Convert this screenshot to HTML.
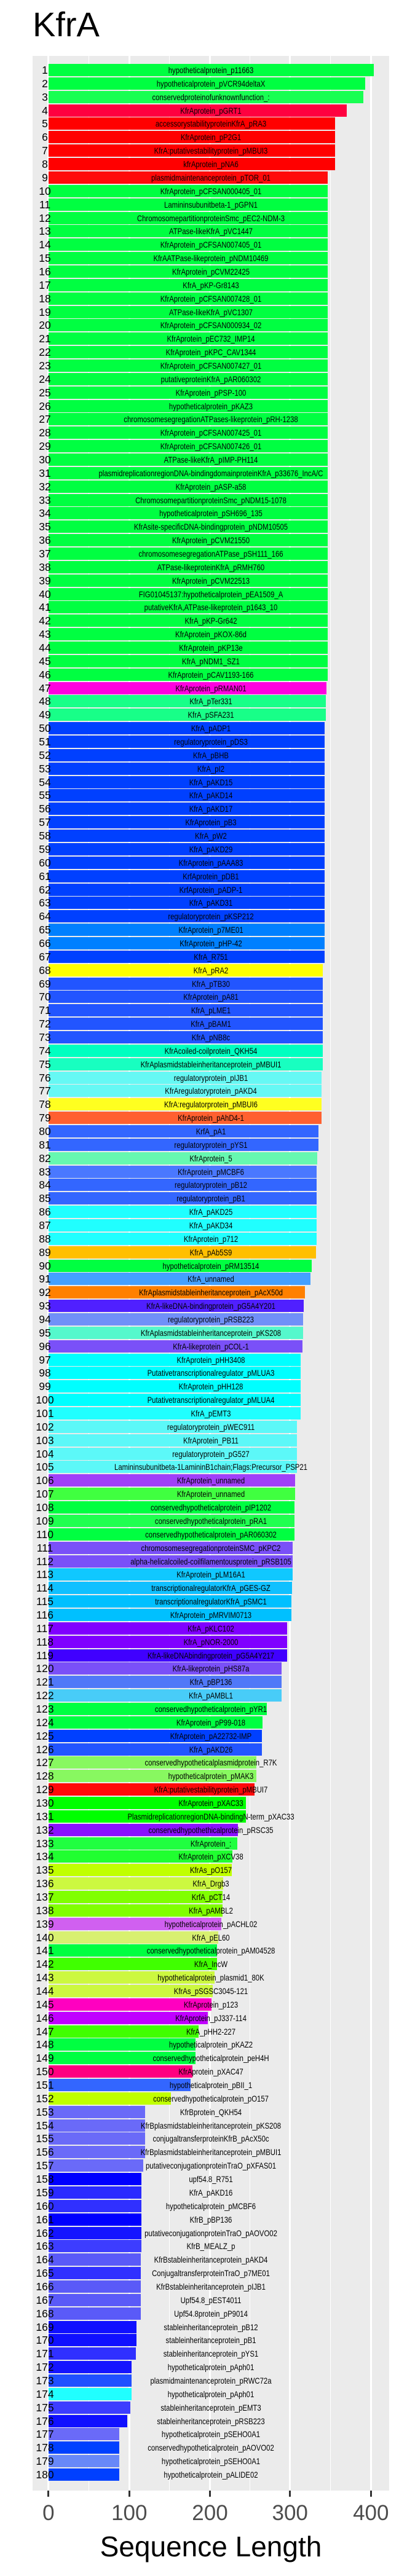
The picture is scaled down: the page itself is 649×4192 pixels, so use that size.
<!DOCTYPE html>
<html><head><meta charset="utf-8">
<style>
html,body{margin:0;padding:0;background:#fff;}
body{width:649px;height:4192px;position:relative;overflow:hidden;font-family:"Liberation Sans",Arial,sans-serif;}
#panel{position:absolute;left:53px;top:91px;width:580px;height:3962px;background:#ebebeb;}
.g{position:absolute;top:91px;height:3962px;background:#fff;}
.bar{position:absolute;left:79px;height:20px;}
.lab{position:absolute;left:343px;height:20px;line-height:20px;font-size:14px;white-space:nowrap;color:#000;transform:translateX(-50%) scaleX(0.81);}
.num{position:absolute;left:48px;width:50px;text-align:center;height:20px;line-height:21px;font-size:17.5px;color:#000;}
.tick{position:absolute;top:4053px;width:3px;height:10px;background:#333;}
.tl{position:absolute;top:4070px;width:80px;text-align:center;font-size:35px;line-height:40px;color:#4d4d4d;}
</style></head><body>
<div style="position:absolute;left:53px;top:8px;font-size:56px;line-height:64px;color:#000;">KfrA</div>
<div id="panel"></div>
<div id="c"></div>
<div style="position:absolute;left:0;width:686px;top:4118px;text-align:center;font-size:46px;line-height:52px;color:#000;">Sequence Length</div>
<script>
var L=["hypotheticalprotein_p11663","hypotheticalprotein_pVCR94deltaX","conservedproteinofunknownfunction_:","KfrAprotein_pGRT1","accessorystabilityproteinKfrA_pRA3","KfrAprotein_pP2G1","KfrA:putativestabilityprotein_pMBUI3","kfrAprotein_pNA6","plasmidmaintenanceprotein_pTOR_01","KfrAprotein_pCFSAN000405_01",
"Lamininsubunitbeta-1_pGPN1","ChromosomepartitionproteinSmc_pEC2-NDM-3","ATPase-likeKfrA_pVC1447","KfrAprotein_pCFSAN007405_01","KfrAATPase-likeprotein_pNDM10469","KfrAprotein_pCVM22425","KfrA_pKP-Gr8143","KfrAprotein_pCFSAN007428_01","ATPase-likeKfrA_pVC1307","KfrAprotein_pCFSAN000934_02",
"KfrAprotein_pEC732_IMP14","KfrAprotein_pKPC_CAV1344","KfrAprotein_pCFSAN007427_01","putativeproteinKfrA_pAR060302","KfrAprotein_pPSP-100","hypotheticalprotein_pKAZ3","chromosomesegregationATPases-likeprotein_pRH-1238","KfrAprotein_pCFSAN007425_01","KfrAprotein_pCFSAN007426_01","ATPase-likeKfrA_pIMP-PH114",
"plasmidreplicationregionDNA-bindingdomainproteinKfrA_p33676_IncA/C","KfrAprotein_pASP-a58","ChromosomepartitionproteinSmc_pNDM15-1078","hypotheticalprotein_pSH696_135","KfrAsite-specificDNA-bindingprotein_pNDM10505","KfrAprotein_pCVM21550","chromosomesegregationATPase_pSH111_166","ATPase-likeproteinKfrA_pRMH760","KfrAprotein_pCVM22513","FIG01045137:hypotheticalprotein_pEA1509_A",
"putativeKfrA,ATPase-likeprotein_p1643_10","KfrA_pKP-Gr642","KfrAprotein_pKOX-86d","KfrAprotein_pKP13e","KfrA_pNDM1_SZ1","KfrAprotein_pCAV1193-166","KfrAprotein_pRMAN01","KfrA_pTer331","KfrA_pSFA231","KfrA_pADP1",
"regulatoryprotein_pDS3","KfrA_pBHB","KfrA_pI2","KfrA_pAKD15","KfrA_pAKD14","KfrA_pAKD17","KfrAprotein_pB3","KfrA_pW2","KfrA_pAKD29","KfrAprotein_pAAA83",
"KrfAprotein_pDB1","KrfAprotein_pADP-1","KfrA_pAKD31","regulatoryprotein_pKSP212","KfrAprotein_p7ME01","KfrAprotein_pHP-42","KfrA_R751","KfrA_pRA2","KfrA_pTB30","KfrAprotein_pA81",
"KfrA_pLME1","KfrA_pBAM1","KfrA_pNB8c","KfrAcoiled-coilprotein_QKH54","KfrAplasmidstableinheritanceprotein_pMBUI1","regulatoryprotein_pIJB1","KfrAregulatoryprotein_pAKD4","KfrA:regulatorprotein_pMBUI6","KfrAprotein_pAhD4-1","KrfA_pA1",
"regulatoryprotein_pYS1","KfrAprotein_5","KfrAprotein_pMCBF6","regulatoryprotein_pB12","regulatoryprotein_pB1","KfrA_pAKD25","KfrA_pAKD34","KfrAprotein_p712","KfrA_pAb5S9","hypotheticalprotein_pRM13514",
"KfrA_unnamed","KfrAplasmidstableinheritanceprotein_pAcX50d","KfrA-likeDNA-bindingprotein_pG5A4Y201","regulatoryprotein_pRSB223","KfrAplasmidstableinheritanceprotein_pKS208","KfrA-likeprotein_pCOL-1","KfrAprotein_pHH3408","Putativetranscriptionalregulator_pMLUA3","KfrAprotein_pHH128","Putativetranscriptionalregulator_pMLUA4",
"KfrA_pEMT3","regulatoryprotein_pWEC911","KfrAprotein_PB11","regulatoryprotein_pG527","Lamininsubunitbeta-1LamininB1chain;Flags:Precursor_PSP21","KfrAprotein_unnamed","KfrAprotein_unnamed","conservedhypotheticalprotein_pIP1202","conservedhypotheticalprotein_pRA1","conservedhypotheticalprotein_pAR060302",
"chromosomesegregationproteinSMC_pKPC2","alpha-helicalcoiled-coilfilamentousprotein_pRSB105","KfrAprotein_pLM16A1","transcriptionalregulatorKfrA_pGES-GZ","transcriptionalregulatorKfrA_pSMC1","KfrAprotein_pMRVIM0713","KfrA_pKLC102","KfrA_pNOR-2000","KfrA-likeDNAbindingprotein_pG5A4Y217","KfrA-likeprotein_pHS87a",
"KfrA_pBP136","KfrA_pAMBL1","conservedhypotheticalprotein_pYR1","KfrAprotein_pP99-018","KfrAprotein_pA22732-IMP","KfrA_pAKD26","conservedhypotheticalplasmidprotein_R7K","hypotheticalprotein_pMAK3","KfrA:putativestabilityprotein_pMBUI7","KfrAprotein_pXAC33",
"PlasmidreplicationregionDNA-bindingN-term_pXAC33","conservedhypothethicalprotein_pRSC35","KfrAprotein_:","KfrAprotein_pXCV38","KfrAs_pO157","KfrA_Drgb3","KrfA_pCT14","KfrA_pAMBL2","hypotheticalprotein_pACHL02","KfrA_pEL60",
"conservedhypotheticalprotein_pAM04528","KfrA_IncW","hypotheticalprotein_plasmid1_80K","KfrAs_pSGSC3045-121","KfrAprotein_p123","KfrAprotein_pJ337-114","KfrA_pHH2-227","hypotheticalprotein_pKAZ2","conservedhypotheticalprotein_peH4H","KfrAprotein_pXAC47",
"hypotheticalprotein_pBII_1","conservedhypotheticalprotein_pO157","KfrBprotein_QKH54","KfrBplasmidstableinheritanceprotein_pKS208","conjugaltransferproteinKfrB_pAcX50c","KfrBplasmidstableinheritanceprotein_pMBUI1","putativeconjugationproteinTraO_pXFAS01","upf54.8_R751","KfrA_pAKD16","hypotheticalprotein_pMCBF6",
"KfrB_pBP136","putativeconjugationproteinTraO_pAOVO02","KfrB_MEALZ_p","KfrBstableinheritanceprotein_pAKD4","ConjugaltransferproteinTraO_p7ME01","KfrBstableinheritanceprotein_pIJB1","Upf54.8_pEST4011","Upf54.8protein_pP9014","stableinheritanceprotein_pB12","stableinheritanceprotein_pB1",
"stableinheritanceprotein_pYS1","hypotheticalprotein_pAph01","plasmidmaintenanceprotein_pRWC72a","hypotheticalprotein_pAph01","stableinheritanceprotein_pEMT3","stableinheritanceprotein_pRSB223","hypotheticalprotein_pSEHO0A1","conservedhypotheticalprotein_pAOVO02","hypotheticalprotein_pSEHO0A1","hypotheticalprotein_pALIDE02"];
function rep(a,n){var r=[];for(var i=0;i<n;i++)r.push(a);return r;}
var Z=[].concat([1450,1418,1411,1346],rep(1300,4),[1273],rep(1271,37),[1268],rep(1264,2),rep(1261,17),[1259,1254],rep(1252,7),rep(1247,4),rep(1237,2),[1232],rep(1230,6),[1227,1210,1206,1184,1179,1177,1177,1174],rep(1167,5),rep(1152,4),rep(1145,2),rep(1143,3),rep(1136,3),[1133,1131,1131],rep(1114,3),[1094,1092,1092,1036,1020,1017,1017,995,995,988,954,954,923,921,901,899,867,865,865,858,848,843,843,834,826,821,807,771,759,759,747,739,663],rep(563,4),[556],rep(548,6),rep(546,5),[529,529,527,510,510,510,507,493],rep(464,4));
var C=[].concat(["#00ff41","#00ff41","#18ff52","#ff0040"],rep("#ff0000",4),["#ff0a0a"],rep("#00ff41",37),["#ff00e0","#18ff88","#18ff88"],rep("#0040ff",15),["#0080ff","#0080ff","#0040ff","#ffff00"],rep("#2255ff",5),["#00ffc0","#18ffc0","#66f8f4","#66f8f4","#ffff20","#ff6030","#3366ff","#3366ff","#66f8b0","#4a78ff","#3366ff","#3366ff","#20ffff","#20ffff","#20ffff","#ffbf00","#00ff41","#44a0ff","#ff8000","#5020ff","#7090f8","#55f8cc","#7a50f8","#00ffff","#00ffff","#00ffff","#00ffff","#20ffff","#5cf8f8","#5cf8f8","#5cf8f8","#5cf8f8","#a040f8","#40ff40","#00ff41","#20ff50","#00ff41","#7a50f8","#7a50f8","#10c8ff","#10c0ff","#00c0ff","#00c0ff","#8000ff","#8000ff","#4000ff","#7a50f8","#5078f8","#48ccf8","#00ff41","#00ff41","#0040ff","#2255ff","#88f860","#88f860","#ff0a0a","#00ff00","#00ff00","#8a10ff","#20ff40","#20ff30","#c0ff00","#ccf840","#80ff00","#80ff00","#d060f0","#d8f070","#00ff41","#40ff00","#ccf840","#ccf840","#ff00c0","#c000ff","#40ff00","#00ff41","#00ff41","#ff0080","#3366ff","#c0ff00","#6a6af8","#6a6af8","#6a6af8","#6a6af8","#6a6af8","#0000ff","#2a2aff","#3030ff","#0000ff","#1515ff","#3d3dff","#5a5af8","#3030ff","#5a5af8","#5a5af8","#5a5af8","#1010ff","#1010ff","#3030ff","#1515ff","#2050ff","#20ffff","#3d3dff","#1010ff","#6a6af8","#0040ff","#6888f8","#0040ff"]);
var h="";
var major=[78.8,210.3,341.5,471.7,603.3],minor=[144.6,275.7,406.4,537.6];
minor.forEach(function(x){h+='<div class="g" style="left:'+(x-0.8)+'px;width:1.6px"></div>';});
major.forEach(function(x){h+='<div class="g" style="left:'+(x-1.5)+'px;width:3px"></div>';});
var S=649/1549;
for(var i=0;i<180;i++){
 var y=104+i*21.86;
 var w=Z[i]*S-79;
 h+='<div class="bar" style="top:'+y.toFixed(1)+'px;width:'+w.toFixed(1)+'px;background:'+C[i]+'"></div>';
 h+='<div class="num" style="top:'+y.toFixed(1)+'px">'+(i+1)+'</div>';
 h+='<div class="lab" style="top:'+y.toFixed(1)+'px">'+L[i]+'</div>';
}
var tv=["0","100","200","300","400"];
major.forEach(function(x,k){h+='<div class="tick" style="left:'+(x-1.5)+'px"></div><div class="tl" style="left:'+(x-40)+'px">'+tv[k]+'</div>';});
document.getElementById("c").innerHTML=h;
</script>
</body></html>
